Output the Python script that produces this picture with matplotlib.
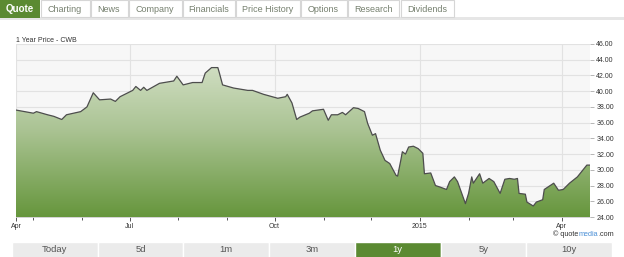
import matplotlib
matplotlib.use('Agg')
import matplotlib.pyplot as plt
import matplotlib.dates as mdates
from matplotlib.patches import Rectangle, Polygon
from matplotlib.colors import LinearSegmentedColormap
from matplotlib.text import Annotation
import numpy as np
import pandas as pd

# ---------------- data ----------------
dates = ['2014-04-20', '2014-05-01', '2014-05-03', '2014-05-10', '2014-05-14', '2014-05-19',
         '2014-05-22', '2014-05-31', '2014-06-04', '2014-06-08', '2014-06-12', '2014-06-19',
         '2014-06-22', '2014-06-25', '2014-07-03', '2014-07-05', '2014-07-08', '2014-07-10',
         '2014-07-12', '2014-07-20', '2014-07-29', '2014-07-31', '2014-08-04', '2014-08-10',
         '2014-08-16', '2014-08-18', '2014-08-22', '2014-08-26', '2014-08-27', '2014-08-29',
         '2014-09-05', '2014-09-14', '2014-09-17', '2014-09-24', '2014-10-03', '2014-10-08',
         '2014-10-09', '2014-10-12', '2014-10-15', '2014-10-17', '2014-10-23', '2014-10-25',
         '2014-11-01', '2014-11-04', '2014-11-06', '2014-11-10', '2014-11-13', '2014-11-15',
         '2014-11-20', '2014-11-23', '2014-11-27', '2014-11-29', '2014-12-02', '2014-12-04',
         '2014-12-05', '2014-12-07', '2014-12-10', '2014-12-13', '2014-12-17', '2014-12-18',
         '2014-12-20', '2014-12-21', '2014-12-23', '2014-12-25', '2014-12-28', '2014-12-31',
         '2015-01-03', '2015-01-04', '2015-01-08', '2015-01-11', '2015-01-14', '2015-01-18',
         '2015-01-20', '2015-01-23', '2015-01-25', '2015-01-30', '2015-02-01', '2015-02-03',
         '2015-02-04', '2015-02-08', '2015-02-10', '2015-02-14', '2015-02-17', '2015-02-21',
         '2015-02-24', '2015-02-27', '2015-03-02', '2015-03-04', '2015-03-05', '2015-03-09',
         '2015-03-10', '2015-03-14', '2015-03-16', '2015-03-20', '2015-03-21', '2015-03-27',
         '2015-03-30', '2015-04-02', '2015-04-06', '2015-04-11', '2015-04-17', '2015-04-19']
prices = [37.6, 37.2, 37.4, 37.0, 36.8, 36.4,
          37.0, 37.4, 38.0, 39.8, 38.9, 39.0,
          38.7, 39.3, 40.1, 40.6, 40.1, 40.5,
          40.1, 41.0, 41.3, 41.9, 40.8, 41.1,
          41.1, 42.3, 43.0, 43.0, 42.3, 40.8,
          40.4, 40.1, 40.1, 39.6, 39.1, 39.3,
          39.6, 38.5, 36.4, 36.7, 37.2, 37.5,
          37.7, 36.3, 37.0, 37.0, 37.3, 37.0,
          37.9, 37.8, 37.4, 35.9, 34.4, 34.6,
          33.9, 32.5, 31.2, 30.8, 29.3, 29.2,
          31.2, 32.3, 32.0, 32.9, 33.0, 32.7,
          32.1, 29.5, 29.6, 28.0, 27.8, 27.5,
          28.5, 29.1, 28.5, 25.7, 27.0, 29.1,
          28.3, 29.5, 28.3, 28.9, 28.5, 27.0,
          28.8, 28.9, 28.8, 28.9, 27.0, 26.9,
          25.9, 25.4, 25.9, 26.2, 27.5, 28.3,
          27.4, 27.5, 28.3, 29.1, 30.6, 30.6]

y_ticks = [24, 26, 28, 30, 32, 34, 36, 38, 40, 42, 44, 46]
major_tick_dates = ['2014-04-20', '2014-07-01', '2014-10-01', '2015-01-01', '2015-04-01']
major_tick_labels = ['Apr', 'Jul', 'Oct', '2015', 'Apr']
minor_tick_dates = ['2014-05-01', '2014-06-01', '2014-08-01', '2014-09-01',
                    '2014-11-01', '2014-12-01', '2015-02-01', '2015-03-01']
tab_labels = ['Quote', 'Charting', 'News', 'Company', 'Financials', 'Price History',
              'Options', 'Research', 'Dividends']
button_labels = ['Today', '5d', '1m', '3m', '1y', '5y', '10y']
title = '1 Year Price - CWB'

# ---------------- layout ----------------
W, H = 624, 257
GREEN = '#5b8a32'
tab_edges = [0, 40, 90, 128, 182, 235, 300, 347, 400, 454]
btn_left, btn_right, btn_top, btn_bot = 12, 612, 242, 257
active_tab, active_btn = 0, 4
SMALL = ['Liberation Sans Narrow', 'Liberation Sans', 'DejaVu Sans']
UI = ['Liberation Sans', 'DejaVu Sans']

fig = plt.figure(figsize=(W / 100, H / 100), dpi=100)
fig.patch.set_facecolor('white')

def fx(x):
    return x / W

def fy(y):
    return 1 - y / H

def rect(x0, y0, x1, y1, **kw):
    fig.add_artist(Rectangle((fx(x0), fy(y1)), fx(x1) - fx(x0), fy(y0) - fy(y1),
                             transform=fig.transFigure, **kw))

# tab bar
rect(0, 17, W, 20, facecolor='#e6e6e6', edgecolor='none')
for i, lab in enumerate(tab_labels):
    x0, x1 = tab_edges[i], tab_edges[i + 1]
    if i == active_tab:
        rect(x0, 0, x1, 18, facecolor=GREEN, edgecolor='none')
        fig.text(fx((x0 + x1) / 2), fy(9), lab, ha='center', va='center', color='white',
                 fontsize=7, fontweight='bold', family=UI)
    else:
        rect(x0 + 0.5, 0, x1 - 0.5, 17, facecolor='white', edgecolor='#d6d6d6', lw=0.8)
        fig.text(fx((x0 + x1) / 2), fy(9), lab, ha='center', va='center', color='#76806f',
                 fontsize=6.5, family=UI)

# chart
ax = fig.add_axes([fx(16), fy(217), fx(590) - fx(16), fy(44) - fy(217)])
ax.set_facecolor('#f7f7f7')
x = mdates.date2num(pd.to_datetime(dates))
ymin, ymax = y_ticks[0], y_ticks[-1]
verts = [(x[0], ymin)] + list(zip(x, prices)) + [(x[-1], ymin)]
poly = Polygon(verts, closed=True, facecolor='none', edgecolor='none')
ax.add_patch(poly)
cmap = LinearSegmentedColormap.from_list('g', ['#dde7d2', '#aac393', '#66963c'])
grad = np.linspace(0, 1, 256).reshape(-1, 1)
im = ax.imshow(grad, extent=[x[0], x[-1], ymin, ymax], origin='upper', aspect='auto',
               cmap=cmap, zorder=1, interpolation='bilinear')
im.set_clip_path(poly)
ax.plot(x, prices, color='#4d4d4d', lw=0.9, zorder=3)

ax.set_xlim(x[0], x[-1])
ax.set_ylim(ymin, ymax)
ax.set_axisbelow(True)
ax.yaxis.tick_right()
ax.set_yticks(y_ticks)
ax.set_yticklabels([f'{v:.2f}' for v in y_ticks], family=SMALL)
ax.set_xticks(mdates.date2num(pd.to_datetime(major_tick_dates)))
ax.set_xticklabels(major_tick_labels, family=SMALL)
ax.set_xticks(mdates.date2num(pd.to_datetime(minor_tick_dates)), minor=True)
ax.grid(True, which='major', color='#e2e2e2', lw=0.8)
ax.tick_params(axis='y', length=3, width=0.5, color='#999999', labelsize=5,
               labelcolor='#333333', pad=1.5)
ax.tick_params(axis='x', which='major', length=3, width=0.7, color='#555555', labelsize=5,
               labelcolor='#333333', pad=1.5)
ax.tick_params(axis='x', which='minor', length=2, width=0.7, color='#555555')
for s in ['top', 'left', 'right']:
    ax.spines[s].set_visible(False)
ax.spines['bottom'].set_color('#cccccc')
ax.spines['bottom'].set_linewidth(0.6)

fig.text(fx(16), fy(41.5), title, ha='left', va='baseline', fontsize=5, color='#333333',
         family=SMALL)

# copyright
t1 = fig.text(fx(553), fy(235.5), '\u00a9 quote', ha='left', va='baseline', fontsize=5.2,
              color='#333333', family=SMALL)
a2 = Annotation('media', xy=(1, 0), xycoords=t1, va='bottom', ha='left', fontsize=5.2,
                color='#4a8fd6', family=SMALL)
fig.add_artist(a2)
a3 = Annotation('.com', xy=(1, 0), xycoords=a2, va='bottom', ha='left', fontsize=5.2,
                color='#333333', family=SMALL)
fig.add_artist(a3)

# bottom buttons
bw = (btn_right - btn_left) / len(button_labels)
for i, lab in enumerate(button_labels):
    x0 = btn_left + i * bw
    x1 = x0 + bw
    fc = GREEN if i == active_btn else '#ebebeb'
    rect(x0, btn_top, x1, btn_bot + 2, facecolor=fc, edgecolor='white', lw=1)
    fig.text(fx((x0 + x1) / 2), fy(250), lab, ha='center', va='center',
             color='white' if i == active_btn else '#555555', fontsize=6.8, family=UI)

fig.savefig('out.png', dpi=100)
